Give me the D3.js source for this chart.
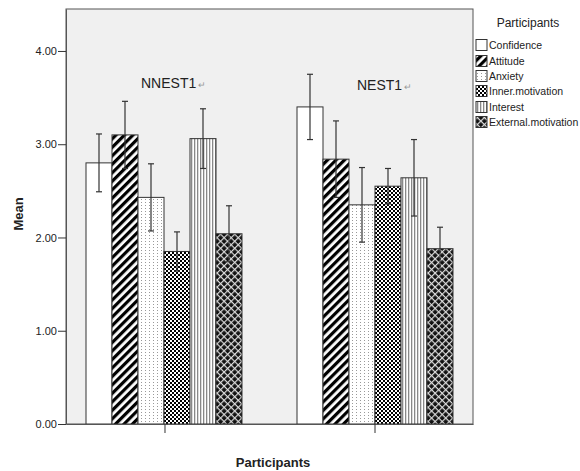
<!DOCTYPE html>
<html><head><meta charset="utf-8">
<script src="https://cdn.jsdelivr.net/npm/d3@7"></script>
<style>body{margin:0;background:#fff;} svg{display:block;font-family:"Liberation Sans",Arial,sans-serif;}</style>
</head><body><svg id="c" width="580" height="471"></svg>
<script>
const groups = ["NNEST1", "NEST1"];
const seriesNames = ["Confidence", "Attitude", "Anxiety", "Inner.motivation", "Interest", "External.motivation"];
const meansNNEST1 = [2.80, 3.10, 2.43, 1.85, 3.06, 2.04];
const meansNEST1  = [3.40, 2.84, 2.35, 2.55, 2.64, 1.88];
const errNNEST1 = [0.31, 0.36, 0.36, 0.21, 0.32, 0.30];
const errNEST1  = [0.35, 0.41, 0.40, 0.19, 0.41, 0.23];
const yTicks = [0, 1, 2, 3, 4];

const svg = d3.select("#c");
const L = 66, R = 473, T = 9, B = 424;
const y = d3.scaleLinear().domain([0, 4.45]).range([B, T]);
const x0 = d3.scalePoint().domain(groups).range([L, R]).padding(0.469);
const x1 = d3.scaleBand().domain(seriesNames).range([-78, 78]).padding(0);

const defs = svg.append("defs");
let p;
p = defs.append("pattern").attr("id","p0").attr("patternUnits","userSpaceOnUse").attr("width",4).attr("height",4);
p.append("rect").attr("width",4).attr("height",4).attr("fill","#fff");
p = defs.append("pattern").attr("id","p1").attr("patternUnits","userSpaceOnUse").attr("width",6).attr("height",6)
  .attr("patternTransform","rotate(45)");
p.append("rect").attr("width",6).attr("height",6).attr("fill","#fff");
p.append("rect").attr("width",3.2).attr("height",6).attr("fill","#000");
p = defs.append("pattern").attr("id","p2").attr("patternUnits","userSpaceOnUse").attr("width",4).attr("height",3);
p.append("rect").attr("width",4).attr("height",3).attr("fill","#fff");
p.append("rect").attr("x",1).attr("y",1).attr("width",1).attr("height",1).attr("fill","#999");
p = defs.append("pattern").attr("id","p3").attr("patternUnits","userSpaceOnUse").attr("width",4).attr("height",4);
p.append("rect").attr("width",4).attr("height",4).attr("fill","#fff");
p.append("rect").attr("width",2).attr("height",2).attr("fill","#000");
p.append("rect").attr("x",2).attr("y",2).attr("width",2).attr("height",2).attr("fill","#000");
p = defs.append("pattern").attr("id","p4").attr("patternUnits","userSpaceOnUse").attr("width",3).attr("height",3);
p.append("rect").attr("width",3).attr("height",3).attr("fill","#fff");
p.append("rect").attr("width",1.3).attr("height",3).attr("fill","#888");
p = defs.append("pattern").attr("id","p5").attr("patternUnits","userSpaceOnUse").attr("width",5).attr("height",5)
  .attr("patternTransform","rotate(45)");
p.append("rect").attr("width",5).attr("height",5).attr("fill","#111");
p.append("rect").attr("width",1.2).attr("height",5).attr("fill","#ddd");
p.append("rect").attr("width",5).attr("height",1.2).attr("fill","#ddd");

svg.append("rect").attr("x",L).attr("y",T).attr("width",R-L).attr("height",B-T)
  .attr("fill","#f0f0f0").attr("stroke","#555").attr("stroke-width",1);

const data = [
  {g:"NNEST1", m:meansNNEST1, e:errNNEST1},
  {g:"NEST1", m:meansNEST1, e:errNEST1}
];
data.forEach(d => {
  const g = svg.append("g").attr("transform",`translate(${Math.round(x0(d.g))},0)`);
  g.selectAll("rect").data(seriesNames).join("rect")
    .attr("x", s => x1(s)).attr("width", x1.bandwidth())
    .attr("y", (s,i) => y(d.m[i])).attr("height", (s,i) => B - y(d.m[i]))
    .attr("fill", (s,i) => `url(#p${i})`).attr("stroke","#333").attr("stroke-width",1);
  seriesNames.forEach((s,i) => {
    const cx = x1(s) + x1.bandwidth()/2;
    const hi = y(d.m[i] + d.e[i]), lo = y(d.m[i] - d.e[i]);
    g.append("line").attr("x1",cx).attr("x2",cx).attr("y1",hi).attr("y2",lo).attr("stroke","#333").attr("stroke-width",1.2);
    g.append("line").attr("x1",cx-3).attr("x2",cx+3).attr("y1",hi).attr("y2",hi).attr("stroke","#333").attr("stroke-width",1.2);
    g.append("line").attr("x1",cx-3).attr("x2",cx+3).attr("y1",lo).attr("y2",lo).attr("stroke","#333").attr("stroke-width",1.2);
  });
});

const yAxis = d3.axisLeft(y).tickValues(yTicks).tickFormat(d3.format(".2f")).tickSize(8).tickSizeOuter(0).tickPadding(1);
const ya = svg.append("g").attr("transform",`translate(${L},0)`).call(yAxis);
ya.select(".domain").attr("stroke","#555");
ya.selectAll(".tick line").attr("stroke","#333");
ya.selectAll("text").attr("font-size",11).attr("fill","#222").attr("font-family","Liberation Sans, Arial");

const xAxis = d3.axisBottom(x0).tickSize(9).tickSizeOuter(0).tickFormat("");
const xa = svg.append("g").attr("transform",`translate(0,${B})`).call(xAxis);
xa.select(".domain").attr("stroke","#555");
xa.selectAll(".tick line").attr("stroke","#333");

svg.append("text").attr("x",141).attr("y",88).attr("font-size",14).attr("fill","#222").text("NNEST1")
  .append("tspan").attr("font-size",9).attr("fill","#999").attr("dx",2).text("\u21B5");
svg.append("text").attr("x",357).attr("y",90).attr("font-size",14).attr("fill","#222").text("NEST1")
  .append("tspan").attr("font-size",9).attr("fill","#999").attr("dx",2).text("\u21B5");

svg.append("text").attr("transform","translate(23,214) rotate(-90)").attr("text-anchor","middle")
  .attr("font-size",13).attr("font-weight","bold").attr("fill","#222").text("Mean");
svg.append("text").attr("x",273).attr("y",467).attr("text-anchor","middle")
  .attr("font-size",13).attr("font-weight","bold").attr("fill","#222").text("Participants");

svg.append("text").attr("x",528).attr("y",27).attr("text-anchor","middle").attr("font-size",12).attr("fill","#222").text("Participants");
const ly = [45, 61, 76, 91, 107, 122];
seriesNames.forEach((s,i) => {
  svg.append("rect").attr("x",476).attr("y",ly[i]-5.5).attr("width",11).attr("height",11)
    .attr("fill",`url(#p${i})`).attr("stroke","#333").attr("stroke-width",1);
  svg.append("text").attr("x",489).attr("y",ly[i]+4).attr("font-size",10.5).attr("fill","#222").text(s);
});
</script>
</body></html>
